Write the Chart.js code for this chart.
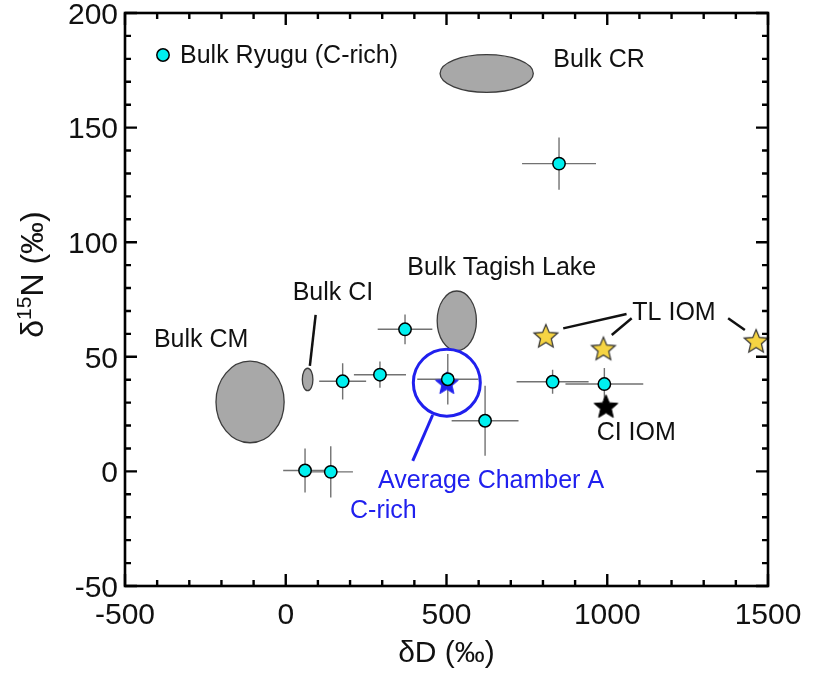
<!DOCTYPE html>
<html>
<head>
<meta charset="utf-8">
<script src="https://cdn.jsdelivr.net/npm/chart.js@4.4.0/dist/chart.umd.min.js"></script>
<style>
  html, body { margin: 0; padding: 0; background: #ffffff; }
  #wrap { width: 819px; height: 675px; }
</style>
</head>
<body>
<div id="wrap"><canvas id="c" width="819" height="675"></canvas></div>
<script>
// ---- values (‰) ----
const ryuguDD       = [371, 177, 293, 504, 620, 60, 140, 850, 830, 991];
const ryuguD15N     = [62.0, 39.3, 42.2, 40.2, 22.1, 0.4, -0.2, 134.3, 39.1, 38.1];
const ryuguDDErr    = [85, 73, 81, 95, 104, 68, 69, 115, 112, 121];
const ryuguD15NErr  = [6.5, 7.9, 5.7, 11, 15.3, 9.6, 11.2, 11.4, 5.2, 7];

const chamberAvgDD   = [501];
const chamberAvgD15N = [38.7];

const tlIomDD   = [809, 988, 1463];
const tlIomD15N = [59.2, 53.7, 57.0];

const ciIomDD   = [996];
const ciIomD15N = [28.5];

// bulk meteorite fields: centre and half-extent
const fieldNames    = ['Bulk CM', 'Bulk CI', 'Bulk Tagish Lake', 'Bulk CR'];
const fieldDD       = [-111, 68, 532, 625];
const fieldD15N     = [30.3, 40.1, 65.7, 173.6];
const fieldDDHalf   = [106, 16.5, 61, 145];
const fieldD15NHalf = [17.8, 4.9, 13, 8.2];

const xTickValues = [-500, 0, 500, 1000, 1500];
const yTickValues = [-50, 0, 50, 100, 150, 200];

// ---- annotation placement (data coordinates) ----
const FONT = "Arial, 'Liberation Sans', Helvetica, sans-serif";
const BLUE = '#2020ee';
const notes = [
  { text: 'Bulk CR',           at: [832, 176.6], color: '#111' },
  { text: 'Bulk Tagish Lake',  at: [378, 85.7],  color: '#111' },
  { text: 'Bulk CI',           at: [21.6, 74.8], color: '#111' },
  { text: 'Bulk CM',           at: [-410, 54.3], color: '#111' },
  { text: 'TL IOM',            at: [1078, 66.1], color: '#111' },
  { text: 'CI IOM',            at: [967, 13.7],  color: '#111' },
  { text: 'Average Chamber A', at: [287, -7.3],  color: BLUE },
  { text: 'C-rich',            at: [200, -20.4], color: BLUE }
];
const leaders = [
  { from: [93, 68.3],   to: [75, 46.0],   color: '#111', w: 2.5 },
  { from: [863, 62.4],  to: [1060, 68.7], color: '#111', w: 2.5 },
  { from: [1014, 59.5], to: [1076, 66.8], color: '#111', w: 2.5 },
  { from: [1376, 66.8], to: [1428, 61.7], color: '#111', w: 2.5 },
  { from: [457, 24.6],  to: [395, 4.6],   color: BLUE,   w: 3 }
];

// five-pointed star marker
function starImage(R, fill, stroke, lw) {
  const s = Math.ceil(2 * R + 2 * lw + 2);
  const c = document.createElement('canvas');
  c.width = s; c.height = s;
  const g = c.getContext('2d');
  const cx = s / 2, cy = s / 2 + R * 0.095;
  g.beginPath();
  for (let i = 0; i < 10; i++) {
    const r = i % 2 ? R * 0.45 : R;
    const a = -Math.PI / 2 + i * Math.PI / 5;
    g.lineTo(cx + r * Math.cos(a), cy + r * Math.sin(a));
  }
  g.closePath();
  g.fillStyle = fill; g.fill();
  g.lineWidth = lw; g.strokeStyle = stroke; g.lineJoin = 'miter'; g.stroke();
  return c;
}
const yellowStar = starImage(12.5, '#f6d443', '#333333', 1.2);
const blackStar  = starImage(12.5, '#000000', '#000000', 1);
const blueStar   = starImage(12, BLUE, BLUE, 1);

const pts = (xs, ys) => xs.map((v, i) => ({ x: v, y: ys[i] }));

// ellipses and error bars beneath the markers
const underlay = {
  id: 'underlay',
  beforeDatasetsDraw(chart) {
    const { ctx, scales: { x, y } } = chart;
    ctx.save();
    for (let i = 0; i < fieldNames.length; i++) {
      const cx = x.getPixelForValue(fieldDD[i]);
      const cy = y.getPixelForValue(fieldD15N[i]);
      const rx = Math.abs(x.getPixelForValue(fieldDD[i] + fieldDDHalf[i]) - cx);
      const ry = Math.abs(y.getPixelForValue(fieldD15N[i] + fieldD15NHalf[i]) - cy);
      ctx.beginPath();
      ctx.ellipse(cx, cy, rx, ry, 0, 0, Math.PI * 2);
      ctx.fillStyle = '#a8a8a8';
      ctx.fill();
      ctx.lineWidth = 1.3;
      ctx.strokeStyle = '#3c3c3c';
      ctx.stroke();
    }
    ctx.strokeStyle = '#727272';
    ctx.lineWidth = 1.4;
    for (let i = 0; i < ryuguDD.length; i++) {
      const px = x.getPixelForValue(ryuguDD[i]);
      const py = y.getPixelForValue(ryuguD15N[i]);
      const x0 = x.getPixelForValue(ryuguDD[i] - ryuguDDErr[i]);
      const x1 = x.getPixelForValue(ryuguDD[i] + ryuguDDErr[i]);
      const y0 = y.getPixelForValue(ryuguD15N[i] - ryuguD15NErr[i]);
      const y1 = y.getPixelForValue(ryuguD15N[i] + ryuguD15NErr[i]);
      ctx.beginPath();
      ctx.moveTo(x0, py); ctx.lineTo(x1, py);
      ctx.moveTo(px, y0); ctx.lineTo(px, y1);
      ctx.stroke();
    }
    ctx.restore();
  }
};

// frame, inward ticks, tick labels, notes, legend and axis titles
const overlay = {
  id: 'overlay',
  afterDatasetsDraw(chart) {
    const { ctx, chartArea: a, scales: { x, y } } = chart;
    ctx.save();
    // leader lines
    ctx.lineCap = 'butt';
    leaders.forEach(l => {
      ctx.beginPath();
      ctx.strokeStyle = l.color; ctx.lineWidth = l.w;
      ctx.moveTo(x.getPixelForValue(l.from[0]), y.getPixelForValue(l.from[1]));
      ctx.lineTo(x.getPixelForValue(l.to[0]), y.getPixelForValue(l.to[1]));
      ctx.stroke();
    });
    // text notes
    ctx.font = '25px ' + FONT;
    ctx.textAlign = 'left';
    ctx.textBaseline = 'alphabetic';
    notes.forEach(n => {
      ctx.fillStyle = n.color;
      ctx.fillText(n.text, x.getPixelForValue(n.at[0]), y.getPixelForValue(n.at[1]));
    });
    // frame
    ctx.strokeStyle = '#000'; ctx.lineWidth = 2.6;
    ctx.strokeRect(a.left, a.top, a.right - a.left, a.bottom - a.top);
    ctx.lineWidth = 2.4;
    ctx.beginPath();
    for (let v = x.min; v <= x.max; v += 100) {
      const px = x.getPixelForValue(v);
      const L = v % 500 === 0 ? 12 : 6;
      ctx.moveTo(px, a.top); ctx.lineTo(px, a.top + L);
      ctx.moveTo(px, a.bottom); ctx.lineTo(px, a.bottom - L);
    }
    for (let v = y.min; v <= y.max; v += 10) {
      const py = y.getPixelForValue(v);
      const L = v % 50 === 0 ? 12 : 6;
      ctx.moveTo(a.left, py); ctx.lineTo(a.left + L, py);
      ctx.moveTo(a.right, py); ctx.lineTo(a.right - L, py);
    }
    ctx.stroke();
    // tick labels
    ctx.fillStyle = '#111';
    ctx.font = '30px ' + FONT;
    ctx.textBaseline = 'alphabetic';
    ctx.textAlign = 'center';
    xTickValues.forEach(v => ctx.fillText(String(v), x.getPixelForValue(v), a.bottom + 38));
    ctx.textAlign = 'right';
    yTickValues.forEach(v => ctx.fillText(String(v), a.left - 7, y.getPixelForValue(v) + 10.7));
    // legend
    ctx.textAlign = 'left';
    const lx = a.left + 38, ly = a.top + 42;
    ctx.beginPath();
    ctx.arc(lx, ly, 6.2, 0, Math.PI * 2);
    ctx.fillStyle = '#00f0f0'; ctx.fill();
    ctx.lineWidth = 1.5; ctx.strokeStyle = '#000'; ctx.stroke();
    ctx.fillStyle = '#111';
    ctx.font = '25px ' + FONT;
    ctx.textBaseline = 'middle';
    ctx.fillText('Bulk Ryugu (C-rich)', lx + 17, ly + 1);
    // y title with superscript
    ctx.textBaseline = 'alphabetic';
    const big = '32px ' + FONT, small = '21px ' + FONT;
    ctx.font = big; const w1 = ctx.measureText('δ').width;
    const w3 = ctx.measureText('N (‰)').width;
    ctx.font = small; const w2 = ctx.measureText('15').width;
    const total = w1 + w2 + w3;
    ctx.translate(43, (a.top + a.bottom) / 2 - 25);
    ctx.rotate(-Math.PI / 2);
    let cx = -total / 2;
    ctx.font = big; ctx.fillText('δ', cx, 0); cx += w1;
    ctx.font = small; ctx.fillText('15', cx, -12); cx += w2;
    ctx.font = big; ctx.fillText('N (‰)', cx, 0);
    ctx.setTransform(1, 0, 0, 1, 0, 0);
    // x title
    ctx.font = '30px ' + FONT;
    ctx.textAlign = 'center';
    ctx.fillText('δD (‰)', (a.left + a.right) / 2, 662);
    ctx.restore();
  }
};

new Chart(document.getElementById('c'), {
  type: 'scatter',
  data: {
    datasets: [
      { label: 'Bulk Ryugu (C-rich)', data: pts(ryuguDD, ryuguD15N),
        pointStyle: 'circle', pointRadius: 6.2, pointHoverRadius: 6.2,
        backgroundColor: '#00f0f0', borderColor: '#000', borderWidth: 1.5, clip: false },
      { label: 'Average Chamber A C-rich', data: pts(chamberAvgDD, chamberAvgD15N),
        pointStyle: blueStar, clip: false },
      { label: 'CI IOM', data: pts(ciIomDD, ciIomD15N), pointStyle: blackStar, clip: false },
      { label: 'TL IOM', data: pts(tlIomDD, tlIomD15N), pointStyle: yellowStar, clip: false },
      { label: 'Average Chamber A ring', data: pts(chamberAvgDD, chamberAvgD15N),
        pointStyle: 'circle', pointRadius: 33.5, pointHoverRadius: 33.5,
        backgroundColor: 'rgba(0,0,0,0)', borderColor: BLUE, borderWidth: 3, clip: false }
    ]
  },
  options: {
    responsive: false,
    animation: false,
    devicePixelRatio: 1,
    events: [],
    layout: { autoPadding: false, padding: { left: 0, top: 13, right: 51, bottom: 0 } },
    plugins: { legend: { display: false }, tooltip: { enabled: false } },
    scales: {
      x: {
        type: 'linear', min: -500, max: 1500,
        grid: { display: false, drawTicks: false },
        border: { display: false },
        ticks: { display: false },
        afterFit: s => { s.height = 89; s.paddingLeft = 0; s.paddingRight = 0; }
      },
      y: {
        type: 'linear', min: -50, max: 200,
        grid: { display: false, drawTicks: false },
        border: { display: false },
        ticks: { display: false },
        afterFit: s => { s.width = 125; s.paddingTop = 0; s.paddingBottom = 0; }
      }
    }
  },
  plugins: [underlay, overlay]
});
</script>
</body>
</html>
